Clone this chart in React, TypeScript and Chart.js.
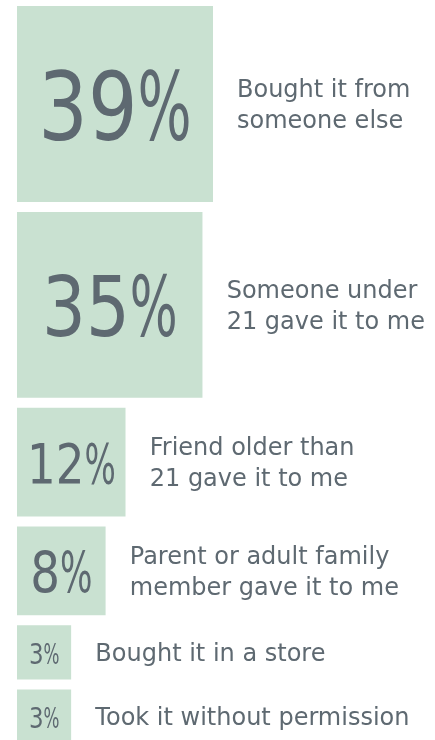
import React, { useEffect, useRef } from "react";
import { Chart, registerables } from "chart.js";

Chart.register(...registerables);

// ---- data ----
const values: number[] = [39, 35, 12, 8, 3, 3];
const labelLines: string[][] = [
  ["Bought it from", "someone else"],
  ["Someone under", "21 gave it to me"],
  ["Friend older than", "21 gave it to me"],
  ["Parent or adult family", "member gave it to me"],
  ["Bought it in a store"],
  ["Took it without permission"],
];

// ---- style ----
const numberFontSizes: number[] = [95, 84, 55, 57, 28, 28];
const squareColor = "#c9e1d1";
const textColor = "#5e6971";
const W = 435;
const H = 740;
const maxSide = 196; // side of the largest square, in scale units
const originX = 17;
const originY = 6;
const gap = 10;
const labelGap = 24;
const labelFont = 24;
const lineHeight = 31;

type Box = { left: number; top: number; side: number };

function layout(): Box[] {
  const maxV = Math.max(...values);
  let top = originY;
  return values.map((v) => {
    const side = Math.sqrt(v / maxV) * maxSide;
    const b = { left: originX, top, side };
    top += side + gap;
    return b;
  });
}

const textPlugin = {
  id: "squareText",
  afterDatasetsDraw(chart: any) {
    const ctx: CanvasRenderingContext2D = chart.ctx;
    const xs = chart.scales.x;
    const ys = chart.scales.y;
    const boxes = layout();
    ctx.save();
    ctx.fillStyle = textColor;
    ctx.textBaseline = "alphabetic";
    ctx.textAlign = "left";
    boxes.forEach((b, i) => {
      const cx = xs.getPixelForValue(b.left + b.side / 2);
      const cy = ys.getPixelForValue(b.top + b.side / 2);
      // percentage
      const fs = numberFontSizes[i];
      ctx.font = `${fs}px "DejaVu Sans"`;
      const num = String(values[i]);
      const digitScale = 0.82;
      const pctScale = 0.6;
      const wNum = ctx.measureText(num).width * digitScale;
      const wPct = ctx.measureText("%").width * pctScale;
      const x0 = cx - (wNum + wPct) / 2;
      const baseline = cy + (fs * 0.729) / 2 + 1;
      ctx.save();
      ctx.translate(x0, baseline);
      ctx.scale(digitScale, 1);
      ctx.fillText(num, 0, 0);
      ctx.restore();
      ctx.save();
      ctx.translate(x0 + wNum, baseline);
      ctx.scale(pctScale, 1);
      ctx.fillText("%", 0, 0);
      ctx.restore();
      // label
      ctx.font = `${labelFont}px "DejaVu Sans"`;
      const lx = xs.getPixelForValue(b.left + b.side + labelGap);
      const lines = labelLines[i];
      const n = lines.length;
      lines.forEach((line, j) => {
        const y = cy + (labelFont * 0.729) / 2 + (j - (n - 1) / 2) * lineHeight;
        ctx.fillText(line, lx, y);
      });
    });
    ctx.restore();
  },
};

export default function App() {
  const canvasRef = useRef<HTMLCanvasElement | null>(null);

  useEffect(() => {
    if (!canvasRef.current) return;
    const boxes = layout();
    const datasets = boxes.map((b, i) => ({
      label: labelLines[i].join(" "),
      data: [
        { x: b.left, y: b.top },
        { x: b.left + b.side, y: b.top },
      ],
      fill: { value: b.top + b.side },
      backgroundColor: squareColor,
      borderWidth: 0,
      borderColor: "rgba(0,0,0,0)",
      pointRadius: 0,
      tension: 0,
    }));
    const chart = new Chart(canvasRef.current, {
      type: "line",
      data: { datasets },
      options: {
        animation: false,
        responsive: true,
        maintainAspectRatio: false,
        layout: { padding: 0 },
        plugins: {
          legend: { display: false },
          tooltip: { enabled: false },
        },
        events: [],
        scales: {
          x: { type: "linear", min: 0, max: W, display: false },
          y: { type: "linear", min: 0, max: H, reverse: true, display: false },
        },
      },
      plugins: [textPlugin],
    } as any);
    return () => chart.destroy();
  }, []);

  return (
    <div
      style={{
        position: "absolute",
        left: 0,
        top: 0,
        width: W,
        height: H,
        background: "#ffffff",
      }}
    >
      <canvas ref={canvasRef} />
    </div>
  );
}
